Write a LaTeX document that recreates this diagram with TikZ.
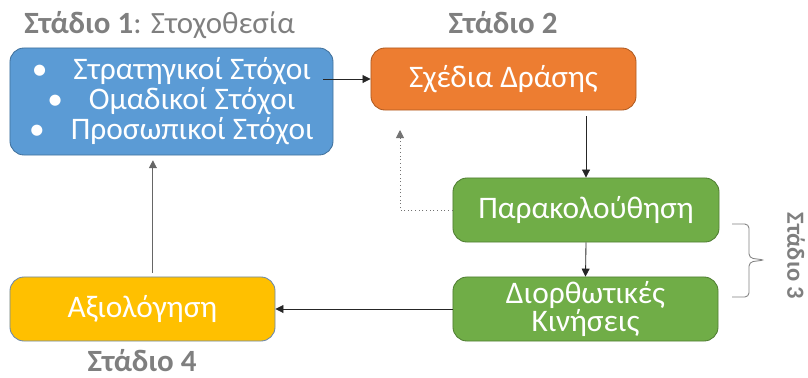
\documentclass[tikz,border=0pt]{standalone}
\usepackage{fontspec}
\setmainfont{Carlito}
\usepackage{tikz}
\usepackage{xcolor}
\usetikzlibrary{arrows.meta, positioning, calc}

\definecolor{goalblue}{HTML}{5B9BD5}
\definecolor{goalline}{HTML}{41719C}
\definecolor{planorange}{HTML}{ED7D31}
\definecolor{planline}{HTML}{AE5A21}
\definecolor{actgreen}{HTML}{70AD47}
\definecolor{actline}{HTML}{507E32}
\definecolor{evalyellow}{HTML}{FFC000}
\definecolor{evalline}{HTML}{6A88AE}
\definecolor{stagegray}{HTML}{7F7F7F}

\begin{document}
\begin{tikzpicture}[x=0.025cm, y=-0.025cm,
  box/.style={draw, rounded corners=0.35cm, text=white, align=center, inner sep=0pt, line width=0.6pt, font=\fontsize{22.3}{21.3}\selectfont},
  stage/.style={text=stagegray, font=\fontsize{22}{24}\selectfont},
  arr/.style={-{Triangle[length=0.2cm,width=0.2cm]}, line width=0.6pt, draw=black!85}]
\useasboundingbox (0,0) rectangle (808,377);

% stage labels
\node[stage, anchor=base west, inner sep=0pt] (s1) at (24,33) {\textbf{Στάδιο 1}: Στοχοθεσία};
\node[stage, anchor=base, inner sep=0pt] (s2) at (503,33) {\textbf{Στάδιο 2}};
\node[stage, rotate=-90, inner sep=0pt, font=\fontsize{17.5}{19}\selectfont] (s3) at (796,256) {\textbf{Στάδιο 3}};
\node[stage, anchor=base, inner sep=0pt] (s4) at (142,371) {\textbf{Στάδιο 4}};

% boxes
\node[box, fill=goalblue, draw=goalline, minimum width=8.075cm, minimum height=2.675cm] (goals) at (171.5,101.5)
  {\textbullet\hspace{0.65cm}Στρατηγικοί Στόχοι\\ \textbullet\hspace{0.65cm}Ομαδικοί Στόχοι\\ \textbullet\hspace{0.65cm}Προσωπικοί Στόχοι};
\node[box, fill=planorange, draw=planline, minimum width=6.625cm, minimum height=1.55cm] (plans) at (503.5,79) {Σχέδια Δράσης};
\node[box, fill=actgreen, draw=actline, minimum width=6.65cm, minimum height=1.6cm] (monitor) at (586,210) {Παρακολούθηση};
\node[box, fill=actgreen, draw=actline, minimum width=6.625cm, minimum height=1.6cm, font=\fontsize{22.3}{20.5}\selectfont] (correct) at (585.5,309) {Διορθωτικές\\Κινήσεις};
\node[box, fill=evalyellow, draw=evalline, minimum width=6.625cm, minimum height=1.6cm] (eval) at (142.5,309) {Αξιολόγηση};

% connectors
\coordinate (fbtip) at (400,130);
\draw[arr] ([xshift=-0.25cm]goals.east |- plans.west) -- (plans.west);
\draw[arr] ([yshift=-0.15cm]monitor.north |- plans.south) -- (monitor.north);
\draw[arr] (monitor.south) -- (correct.north);
\draw[arr] (correct.west) -- (eval.east);
\draw[arr, draw=black!60] ([xshift=0.26cm,yshift=0.1cm]eval.north) -- ([xshift=0.26cm,yshift=-0.12cm]eval.north |- goals.south);
\draw[arr, dotted, draw=black!55] (monitor.west) -| (fbtip);

% brace for stage 3
\draw[draw=stagegray, line width=0.6pt, rounded corners=3pt] (732,224) -| (749,258) -- (765,260) -- (749,262) |- (732,297);
\end{tikzpicture}
\end{document}
